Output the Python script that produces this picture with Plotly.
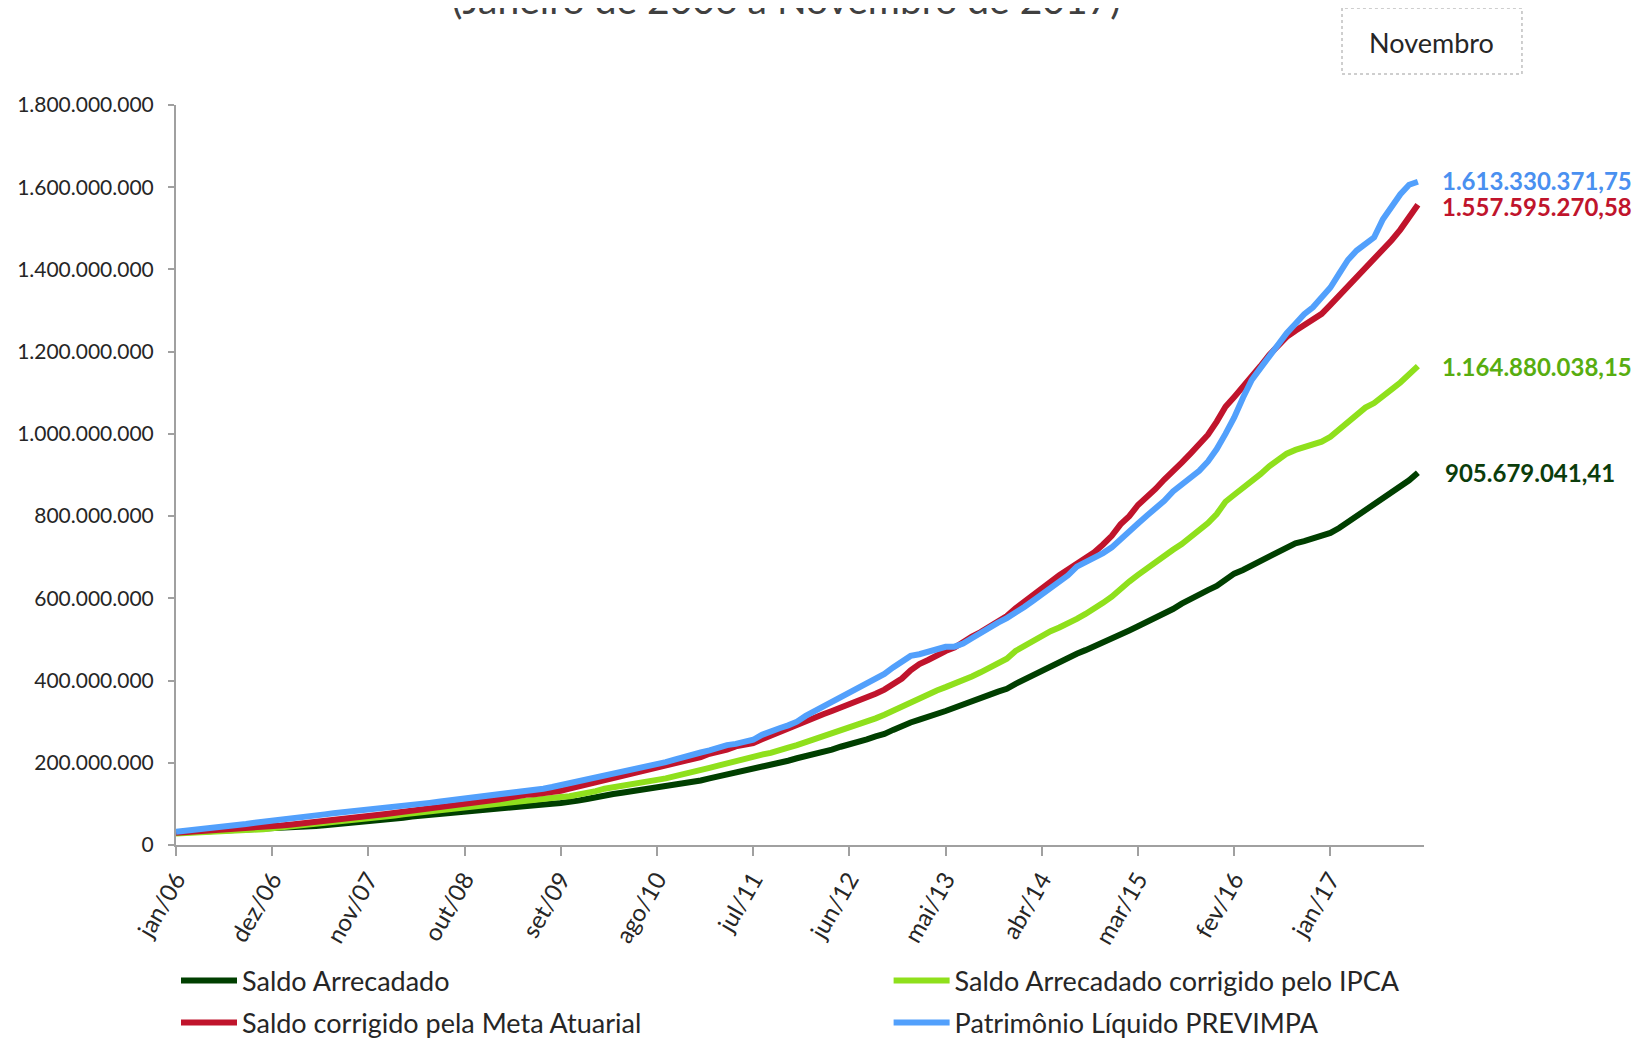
import plotly.graph_objects as go

# ---- categories (monthly, jan/06 .. nov/17) ----
month_abbr = ["jan", "fev", "mar", "abr", "mai", "jun", "jul", "ago", "set", "out", "nov", "dez"]
months = [f"{month_abbr[i % 12]}/{6 + i // 12:02d}" for i in range(143)]
tick_labels = months[::11]

# ---- series values (millions of R$) ----
saldo_arrecadado = [
    30.0, 30.8, 31.5, 32.2, 33.0, 33.8, 34.5, 35.3, 36.0, 36.8, 37.6, 38.5, 40.0, 41.5, 43.0, 44.5,
    46.0, 47.8, 49.5, 51.3, 53.0, 55.0, 58.0, 60.5, 62.5, 64.5, 66.5, 69.0, 71.0, 73.5, 76.0, 78.5,
    81.0, 84.0, 86.0, 87.5, 89.0, 90.5, 92.5, 95.0, 96.5, 98.0, 99.5, 100.5, 102.0, 104.0, 108.0, 112.0,
    117.0, 121.0, 124.0, 127.0, 130.0, 133.5, 136.5, 139.5, 143.0, 146.5, 150.0, 153.5, 157.0, 162.0,
    166.5, 171.0, 176.0, 180.5, 184.5, 188.5, 193.0, 199.0, 205.0, 211.0, 216.0, 220.0, 226.0, 232.0,
    239.0, 244.0, 250.0, 257.0, 264.0, 270.0, 280.0, 290.0, 298.0, 305.0, 311.0, 318.0, 326.0, 334.0,
    341.0, 349.0, 357.0, 365.0, 373.0, 380.0, 392.0, 403.0, 411.0, 421.0, 432.0, 443.0, 454.0, 465.0,
    474.0, 483.0, 493.0, 503.0, 513.0, 522.0, 532.0, 542.0, 552.0, 562.0, 574.0, 587.0, 599.0, 608.0,
    620.0, 630.0, 645.0, 660.0, 669.0, 680.0, 691.0, 702.0, 714.0, 726.0, 734.0, 739.0, 745.0, 751.0,
    759.0, 771.0, 785.0, 799.0, 813.0, 827.0, 841.0, 855.0, 870.0, 887.0, 905.67904141,
]

saldo_ipca = [
    28.0, 28.8, 29.6, 30.4, 31.3, 32.2, 33.2, 34.2, 35.5, 37.0, 38.5, 40.5, 42.5, 44.5, 46.5, 48.5,
    50.5, 52.5, 54.5, 57.0, 59.5, 62.0, 64.5, 67.0, 69.5, 72.0, 74.5, 77.0, 79.5, 82.0, 84.5, 87.0,
    89.5, 92.0, 94.5, 97.0, 99.5, 102.0, 105.0, 108.0, 110.0, 112.0, 114.0, 115.5, 117.0, 118.5, 122.0, 125.5,
    131.0, 137.0, 140.0, 143.5, 147.0, 151.5, 155.0, 158.5, 162.0, 166.5, 171.0, 176.0, 181.5, 187.5,
    193.0, 199.0, 205.0, 210.0, 215.0, 220.0, 224.0, 229.0, 237.0, 243.0, 250.0, 256.0, 264.0, 271.0,
    277.0, 284.0, 292.0, 300.0, 308.0, 317.0, 327.0, 336.0, 350.0, 360.0, 368.0, 376.0, 384.0, 392.0,
    400.0, 410.0, 420.0, 430.0, 442.0, 453.0, 472.0, 484.0, 497.0, 511.0, 520.0, 529.0, 538.0, 550.0,
    562.0, 574.0, 589.0, 604.0, 625.0, 641.0, 657.0, 673.0, 687.0, 702.0, 718.0, 732.0, 748.0, 763.0,
    783.0, 805.0, 835.0, 852.0, 868.0, 885.0, 902.0, 921.0, 937.0, 952.0, 961.0, 967.0, 973.0, 981.0,
    993.0, 1011.0, 1029.0, 1047.0, 1064.0, 1075.0, 1090.0, 1108.0, 1125.0, 1144.0, 1164.88003815,
]

saldo_meta = [
    30.0, 31.2, 32.4, 33.6, 34.8, 36.0, 37.3, 38.6, 40.0, 41.4, 43.0, 45.5, 47.5, 49.5, 51.5, 53.5,
    55.5, 57.5, 59.5, 62.0, 65.0, 68.0, 70.5, 73.0, 75.5, 78.0, 80.5, 83.0, 85.5, 88.0, 90.5, 93.0,
    96.0, 99.5, 102.0, 104.5, 107.5, 111.0, 115.0, 120.0, 122.0, 123.5, 125.5, 128.5, 132.0, 137.0, 142.0, 147.0,
    152.0, 158.0, 163.0, 167.5, 172.0, 177.0, 181.5, 186.5, 192.0, 197.5, 202.5, 206.5, 214.0, 222.0,
    226.0, 232.0, 240.0, 244.0, 248.0, 257.0, 266.0, 276.0, 285.0, 293.0, 301.0, 310.0, 318.0, 326.0,
    334.0, 343.0, 352.0, 360.0, 368.0, 378.0, 390.0, 405.0, 425.0, 440.0, 450.0, 463.0, 472.0, 480.0,
    495.0, 507.0, 518.0, 532.0, 545.0, 557.0, 576.0, 592.0, 610.0, 627.0, 642.0, 656.0, 670.0, 684.0,
    698.0, 712.0, 731.0, 752.0, 780.0, 800.0, 827.0, 846.0, 866.0, 889.0, 912.0, 930.0, 952.0, 975.0,
    998.0, 1030.0, 1066.0, 1090.0, 1114.0, 1139.0, 1165.0, 1192.0, 1214.0, 1236.0, 1251.0, 1264.0, 1277.0, 1292.0,
    1314.0, 1336.0, 1358.0, 1378.0, 1405.0, 1425.0, 1447.0, 1471.0, 1497.0, 1527.0, 1557.59527058,
]

patrimonio = [
    32.0, 34.0, 36.0, 38.0, 40.5, 43.0, 45.5, 48.0, 51.0, 54.0, 57.0, 60.0, 62.0, 64.5, 67.0, 69.5,
    72.0, 74.5, 77.0, 79.0, 81.0, 83.0, 85.0, 87.5, 90.0, 92.5, 95.0, 97.5, 100.0, 102.5, 105.0, 107.5,
    110.0, 113.0, 115.5, 118.5, 121.5, 124.5, 127.5, 130.0, 131.5, 133.5, 137.0, 141.0, 145.5, 150.0, 155.0, 160.0,
    165.0, 169.5, 173.5, 177.0, 181.0, 185.5, 190.5, 196.0, 201.5, 207.5, 214.0, 222.0, 225.0, 230.0,
    238.0, 243.0, 246.0, 250.0, 256.0, 268.0, 278.0, 284.0, 291.0, 300.0, 314.0, 325.0, 337.0, 350.0,
    360.0, 368.0, 380.0, 392.0, 402.0, 416.0, 432.0, 447.0, 460.0, 464.0, 470.0, 479.0, 482.0, 482.5,
    490.0, 503.0, 517.0, 530.0, 541.0, 552.0, 564.0, 579.0, 594.0, 609.0, 624.0, 638.0, 656.0, 677.0,
    687.0, 697.0, 710.0, 724.0, 745.0, 763.0, 782.0, 801.0, 818.0, 837.0, 860.0, 876.0, 890.0, 910.0,
    933.0, 963.0, 1000.0, 1040.0, 1088.0, 1131.0, 1160.0, 1188.0, 1220.0, 1245.0, 1268.0, 1291.0, 1308.0, 1332.0,
    1356.0, 1390.0, 1423.0, 1446.0, 1460.0, 1478.0, 1522.0, 1553.0, 1583.0, 1606.0, 1613.33037175,
]

series_names = [
    "Saldo Arrecadado",
    "Saldo Arrecadado corrigido pelo IPCA",
    "Saldo corrigido pela Meta Atuarial",
    "Patrimônio Líquido PREVIMPA",
]
series_values = [saldo_arrecadado, saldo_ipca, saldo_meta, patrimonio]
line_colors = ["#003f00", "#8fe01c", "#c0142c", "#52a0fc"]
label_colors = ["#0b3d0b", "#58ad10", "#c0142c", "#4a90f0"]
legend_ids = ["legend", "legend2", "legend3", "legend4"]

FONT = "Lato"


def fmt_br(v):
    s = f"{round(v * 1e6, 2):,.2f}"
    return s.replace(",", "X").replace(".", ",").replace("X", ".")


fig = go.Figure()
for name, vals, col, lg in zip(series_names, series_values, line_colors, legend_ids):
    fig.add_trace(go.Scatter(
        x=months, y=[v * 1e6 for v in vals], mode="lines", name=name,
        line=dict(color=col, width=6), legend=lg,
    ))

annotations = []
for vals, col, xs, ys in zip(series_values, label_colors, [25, 22, 22, 22], [0, 0, -2, 1]):
    annotations.append(dict(
        x=months[-1], y=vals[-1] * 1e6, xref="x", yref="y", text=fmt_br(vals[-1]),
        showarrow=False, xanchor="left", yanchor="middle", xshift=xs, yshift=ys,
        font=dict(family=FONT, size=24, color=col, weight="bold"),
    ))

annotations.append(dict(
    x=0.4888, y=1.1095, xref="paper", yref="paper", text="(Janeiro de 2006 a Novembro de 2017)",
    showarrow=False, xanchor="center", yanchor="bottom",
    font=dict(family=FONT, size=39, color="#404040"),
))
annotations.append(dict(
    x=1.0064, y=1.0851, xref="paper", yref="paper", text="Novembro",
    showarrow=False, xanchor="center", yanchor="middle",
    font=dict(family=FONT, size=27, color="#262626"),
))

leg_common = dict(orientation="h", xanchor="left", yanchor="middle", itemwidth=56,
                  font=dict(family=FONT, size=27, color="#262626"), bgcolor="rgba(0,0,0,0)")

# page body adds an 8px margin, so the figure is 16px smaller than the window
fig.update_layout(
    width=1627, height=1032,
    margin=dict(l=168, r=211, t=97, b=195, autoexpand=False),
    paper_bgcolor="white", plot_bgcolor="white",
    separators=",.",
    font=dict(family=FONT, color="#333333"),
    showlegend=True,
    legend=dict(x=0.0, y=-0.1838, **leg_common),
    legend2=dict(x=0.571, y=-0.1838, **leg_common),
    legend3=dict(x=0.0, y=-0.2405, **leg_common),
    legend4=dict(x=0.571, y=-0.2405, **leg_common),
    annotations=annotations,
    shapes=[dict(type="rect", xref="paper", yref="paper", x0=0.9343, x1=1.0785, y0=1.0419, y1=1.1311,
                 line=dict(color="#bfbfbf", width=1.5, dash="3px,3px"), fillcolor="rgba(0,0,0,0)")],
)

fig.update_xaxes(
    type="category", range=[0, 142.7], tickmode="array", tickvals=tick_labels, ticktext=tick_labels,
    tickangle=-60, ticks="outside", ticklen=9, tickwidth=1.5, tickcolor="#a0a0a0",
    showline=True, linecolor="#a0a0a0", linewidth=2, showgrid=False, zeroline=False,
    automargin=False,
    tickfont=dict(family=FONT, size=24, color="#262626"),
)
fig.update_yaxes(
    range=[0, 1.8e9], dtick=2e8, tick0=0, tickformat=",.0f",
    ticks="outside", ticklen=6, tickwidth=1.5, tickcolor="#a0a0a0",
    showline=True, linecolor="#a0a0a0", linewidth=2, showgrid=False, zeroline=False,
    ticklabelstandoff=10, automargin=False,
    tickfont=dict(family=FONT, size=21, color="#262626"),
)

fig.write_html("out.html")
